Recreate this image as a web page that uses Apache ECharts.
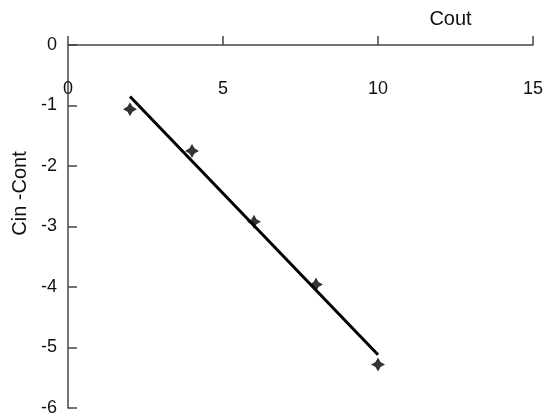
<!DOCTYPE html>
<html>
<head>
<meta charset="utf-8">
<script src="https://cdn.jsdelivr.net/npm/echarts@6/dist/echarts.min.js"></script>
<style>
  html, body { margin: 0; padding: 0; background: #fff; }
  #chart { width: 547px; height: 417px; }
</style>
</head>
<body>
<div id="chart"></div>
<script>
// measured points
const coutValues = [2, 4, 6, 8, 10];
const diffValues = [-1.06, -1.75, -2.92, -3.96, -5.28];
// linear trend line ends
const trendX = [2, 10];
const trendY = [-0.85, -5.12];

const xTicks = [0, 5, 10, 15];
const yTicks = [0, -1, -2, -3, -4, -5, -6];

const axisColor = "#444";
const font = "Liberation Sans, Arial, sans-serif";

const star = "path://M0,-10 L3.6,-3.6 L10,0 L3.6,3.6 L0,10 L-3.6,3.6 L-10,0 L-3.6,-3.6 Z";

const chart = echarts.init(document.getElementById("chart"));
chart.setOption({
  animation: false,
  grid: { left: 68, right: 14, top: 45, bottom: 6 },
  xAxis: {
    type: "value",
    position: "top",
    min: xTicks[0],
    max: xTicks[xTicks.length - 1],
    interval: 5,
    name: "Cout",
    nameLocation: "middle",
    nameGap: 16,
    nameTextStyle: { color: "#111", fontSize: 20, fontFamily: font, padding: [0, 0, 0, 300] },
    axisLine: { show: true, lineStyle: { color: axisColor, width: 1.5 } },
    axisTick: { show: true, inside: false, length: 9, lineStyle: { color: axisColor, width: 1.5 } },
    axisLabel: { inside: true, margin: 35, color: "#111", fontSize: 18, fontFamily: font, showMinLabel: true, showMaxLabel: true },
    splitLine: { show: false }
  },
  yAxis: {
    type: "value",
    min: yTicks[yTicks.length - 1],
    max: yTicks[0],
    interval: 1,
    name: "Cin -Cont",
    nameLocation: "middle",
    nameGap: 36,
    nameRotate: 90,
    nameTextStyle: { color: "#111", fontSize: 20, fontFamily: font, padding: [0, 0, 0, 66] },
    axisLine: { show: true, onZero: false, lineStyle: { color: axisColor, width: 1.5 } },
    axisTick: { show: true, inside: true, length: 9, lineStyle: { color: axisColor, width: 1.5 } },
    axisLabel: { margin: 11, color: "#111", fontSize: 18, fontFamily: font },
    splitLine: { show: false }
  },
  series: [
    {
      type: "line",
      data: trendX.map((x, i) => [x, trendY[i]]),
      symbol: "none",
      lineStyle: { color: "#000", width: 3 },
      z: 2
    },
    {
      type: "scatter",
      data: coutValues.map((x, i) => [x, diffValues[i]]),
      symbol: star,
      symbolSize: 14,
      itemStyle: { color: "#000" },
      z: 3
    }
  ]
});
</script>
</body>
</html>
